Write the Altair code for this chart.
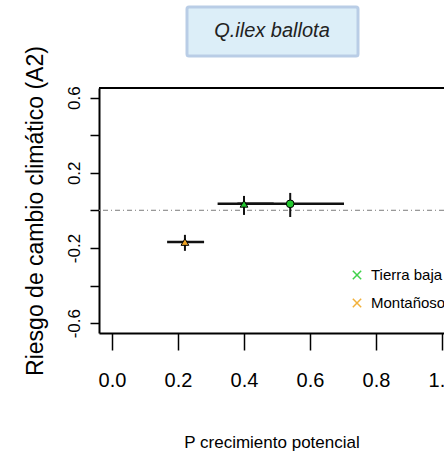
import altair as alt
import pandas as pd

# ---- data ----
groups = ["Tierra baja", "Tierra baja", "Montañoso"]
shapes = ["triangle-up", "circle", "triangle-up"]
p_crec = [0.40, 0.54, 0.221]
p_lo = [0.32, 0.38, 0.167]
p_hi = [0.49, 0.703, 0.279]
riesgo = [0.035, 0.035, -0.168]
riesgo_lo = [-0.024, -0.035, -0.215]
riesgo_hi = [0.077, 0.093, -0.130]

legend_labels = ["Tierra baja", "Montañoso"]
legend_colors = ["#3fd24a", "#f2b13a"]
point_colors = ["#22c82e", "#f0a526"]

x_ticks = [0.0, 0.2, 0.4, 0.6, 0.8, 1.0]
y_ticks = [-0.6, -0.4, -0.2, 0.0, 0.2, 0.4, 0.6]
y_labelled = [0.6, 0.2, -0.2, -0.6]

title_text = "Q.ilex ballota"
x_title = "P crecimiento potencial"
y_title = "Riesgo de cambio climático (A2)"

df = pd.DataFrame({
    "group": groups, "shape": shapes,
    "x": p_crec, "xlo": p_lo, "xhi": p_hi,
    "y": riesgo, "ylo": riesgo_lo, "yhi": riesgo_hi,
})

W, H = 345, 245
NARROW = "'Liberation Sans Narrow', 'Arial Narrow', 'Liberation Sans', sans-serif"
SANS = "'Liberation Sans', Arial, sans-serif"
XPATH = "M-1,-1L1,1M1,-1L-1,1"

xscale = alt.Scale(domain=[-0.0394, 1.006], nice=False, zero=False)
yscale = alt.Scale(domain=[-0.652, 0.651], nice=False, zero=False)

shown = " || ".join("abs(datum.value - (%s)) < 0.001" % v for v in y_labelled)
y_label_expr = "(" + shown + ") ? (datum.value < 0 ? '-' : '') + format(abs(datum.value), '.1f') : ''"

xaxis = alt.Axis(
    values=x_ticks, format=".1f", grid=False,
    domainColor="black", domainWidth=2, tickColor="black", tickWidth=1.5,
    tickSize=17, labelPadding=20, labelFont=NARROW, labelFontSize=20,
    labelColor="black", title=x_title, titleFont=NARROW, titleFontSize=17,
    titleFontWeight="normal", titleColor="black",
    titleX=W / 2, titleY=114, titleAnchor="middle", titleAlign="center",
    titleBaseline="alphabetic",
)
yaxis = alt.Axis(
    values=y_ticks, grid=False, labelExpr=y_label_expr,
    domainColor="black", domainWidth=2, tickColor="black", tickWidth=1.5,
    tickSize=9, labelPadding=16, labelAngle=270, labelAlign="center",
    labelBaseline="middle", labelFont=SANS, labelFontSize=17, labelColor="black",
    title=y_title, titleFont=SANS, titleFontSize=23, titleFontWeight="normal",
    titleColor="black", titleAngle=270, titleX=-64, titleY=H / 2,
    titleAlign="center", titleBaseline="middle",
)

base = alt.Chart(df)

zero_line = base.mark_rule(color="#9a9a9a", strokeWidth=1, strokeDash=[5, 3, 1, 3]).encode(
    y=alt.datum(0.0, scale=yscale, axis=yaxis)
)

hbars = base.mark_rule(color="#111111", strokeWidth=2.5).encode(
    x=alt.X("xlo:Q", scale=xscale, axis=xaxis),
    x2="xhi:Q",
    y=alt.Y("y:Q", scale=yscale, axis=yaxis),
)
vbars = base.mark_rule(color="#111111", strokeWidth=2).encode(
    x=alt.X("x:Q", scale=xscale, axis=xaxis),
    y=alt.Y("ylo:Q", scale=yscale, axis=yaxis),
    y2="yhi:Q",
)
points = base.mark_point(filled=True, stroke="black", strokeWidth=1, opacity=1, size=60).encode(
    x=alt.X("x:Q", scale=xscale, axis=xaxis),
    y=alt.Y("y:Q", scale=yscale, axis=yaxis),
    shape=alt.Shape("shape:N", scale=None, legend=None),
    fill=alt.Fill("group:N", scale=alt.Scale(domain=legend_labels, range=point_colors), legend=None),
)

# hand-drawn legend (R style "x" symbols), one row per entry
legend_layers = []
for i, (lab, col) in enumerate(zip(legend_labels, legend_colors)):
    row_y = 187 + 28 * i
    one = alt.Chart(alt.Data(values=[{"label": lab}]))
    legend_layers.append(
        one.mark_point(shape=XPATH, filled=False, stroke=col, strokeWidth=1.5, size=70, opacity=1)
        .encode(x=alt.value(258), y=alt.value(row_y))
    )
    legend_layers.append(
        one.mark_text(font=NARROW, fontSize=15, color="black", align="left", baseline="middle")
        .encode(x=alt.value(272), y=alt.value(row_y), text="label:N")
    )

top_border = alt.Chart(alt.Data(values=[{}])).mark_rule(color="black", strokeWidth=2).encode(
    x=alt.value(0), x2=alt.value(W + 5), y=alt.value(0)
)
title_box = alt.Chart(alt.Data(values=[{}])).mark_rect(
    fill="#dceef8", stroke="#b9cde6", strokeWidth=3, cornerRadius=2
).encode(x=alt.value(88), x2=alt.value(259), y=alt.value(-81), y2=alt.value(-32))
title_label = alt.Chart(alt.Data(values=[{}])).mark_text(
    text=title_text, font=NARROW, fontSize=20, fontStyle="italic",
    color="#222222", align="center", baseline="middle",
).encode(x=alt.value(173), y=alt.value(-57))

chart = alt.layer(
    zero_line, hbars, vbars, points, *legend_layers, top_border, title_box, title_label
).properties(
    width=W, height=H,
    autosize=alt.AutoSizeParams(type="none"),
    padding={"left": 99, "top": 88, "right": 0, "bottom": 119},
    background="white",
).configure_view(stroke=None)

chart.save("out.html", embed_options={"renderer": "svg", "actions": False})
